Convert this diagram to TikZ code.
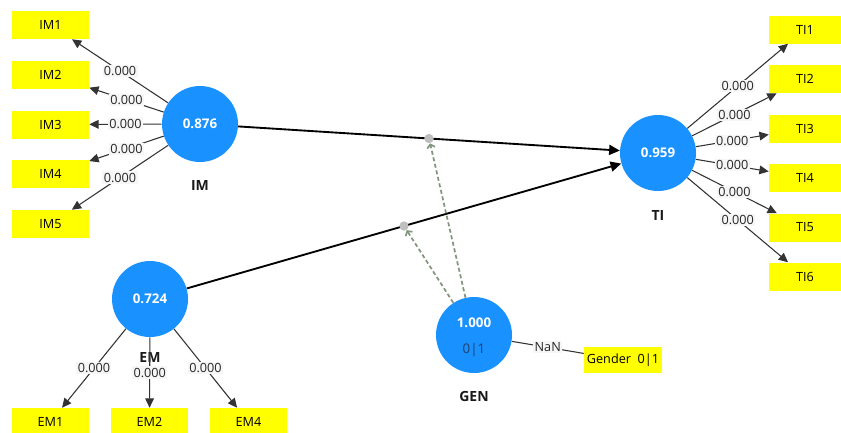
\documentclass[tikz,border=0pt]{standalone}
\usepackage{fontspec}
\setmainfont{Open Sans}
\usetikzlibrary{arrows.meta,calc}
\definecolor{lvblue}{RGB}{25,145,255}
\definecolor{indy}{RGB}{255,255,0}
\definecolor{modc}{RGB}{130,150,125}
\definecolor{lblbg}{RGB}{246,246,246}
\begin{document}
\begin{tikzpicture}[x=0.75pt,y=-0.75pt,
  lv/.style={circle, fill=lvblue, minimum size=57pt, inner sep=0pt, text=white, font=\bfseries\fontsize{10}{11}\selectfont},
  indbox/.style={rectangle, fill=indy, minimum width=57.75pt, minimum height=21pt, inner sep=0pt, font=\fontsize{9.5}{11}\selectfont},
  tibox/.style={indbox, minimum width=54pt},
  lbl/.style={fill=lblbg, inner sep=1pt, font=\fontsize{9.5}{10}\selectfont, text=black!85},
  load/.style={draw=black!80, line width=0.8pt, -{Triangle[length=7pt,width=6.5pt]}},
  struct/.style={draw=black, line width=1.4pt, -{Triangle[length=8pt,width=7.5pt]}},
  modl/.style={draw=modc, line width=1.3pt, dash pattern=on 3pt off 2pt, -{Straight Barb[length=2.5pt,width=6pt]}},
  lvname/.style={font=\bfseries\fontsize{10.5}{12}\selectfont, text=black!90},
  mdot/.style={circle, fill=gray!50, minimum size=7pt, inner sep=0pt}
]
\useasboundingbox (0,0) rectangle (841,432);

% latent variables
\node[lv] (IM) at (200,124) {0.876};
\node[lv] (TI) at (658,153) {0.959};
\node[lv] (EM) at (150,299) {0.724};
\node[lv] (GEN) at (474,335) {};
\node[text=white, font=\bfseries\fontsize{10}{11}\selectfont] (GENv) at (474,323) {1.000};
\node[text={rgb,255:red,35;green,65;blue,105}, font=\fontsize{10}{11}\selectfont] (GENs) at (474,350) {0|1};

% names
\node[lvname] (IMn) at (200,186) {IM};
\node[lvname] (TIn) at (658,215) {TI};
\node[lvname] (EMn) at (150,357) {EM};
\node[lvname] (GENn) at (474,396) {GEN};

% indicators IM
\node[indbox] (IM1) at (50.5,25) {IM1};
\node[indbox] (IM2) at (50.5,75) {IM2};
\node[indbox] (IM3) at (50.5,124.5) {IM3};
\node[indbox] (IM4) at (50.5,174) {IM4};
\node[indbox] (IM5) at (50.5,224) {IM5};

% indicators TI
\node[tibox] (TI1) at (805,29.5) {TI1};
\node[tibox] (TI2) at (805,79) {TI2};
\node[tibox] (TI3) at (805,128.5) {TI3};
\node[tibox] (TI4) at (805,177.5) {TI4};
\node[tibox] (TI5) at (805,227.5) {TI5};
\node[tibox] (TI6) at (805,276.5) {TI6};

% indicators EM
\node[indbox] (EM1) at (50.5,422) {EM1};
\node[indbox] (EM2) at (149.5,422) {EM2};
\node[indbox] (EM4) at (248.5,422) {EM4};

% indicator GEN
\node[indbox, minimum width=58.5pt, minimum height=19.5pt] (G) at (623,360) {Gender~~0|1};

% loadings
\foreach \i in {1,...,5} {\draw[load] (IM) -- node[lbl]{0.000} (IM\i);}
\foreach \i in {1,...,6} {\draw[load] (TI) -- node[lbl]{0.000} (TI\i);}
\foreach \i in {1,2,4} {\draw[load] (EM) -- node[lbl]{0.000} (EM\i);}
\draw[draw=black!80, line width=0.8pt] (GEN) -- node[lbl]{NaN} (G);

% structural paths
\draw[struct] (IM) -- (TI);
\draw[struct] (EM) -- (TI);

% moderation
\node[mdot] (m1) at ($(IM)!0.5!(TI)$) {};
\node[mdot] (m2) at ($(EM)!0.5!(TI)$) {};
\draw[modl] (GEN) -- (m1);
\draw[modl] (GEN) -- (m2);
\end{tikzpicture}
\end{document}
